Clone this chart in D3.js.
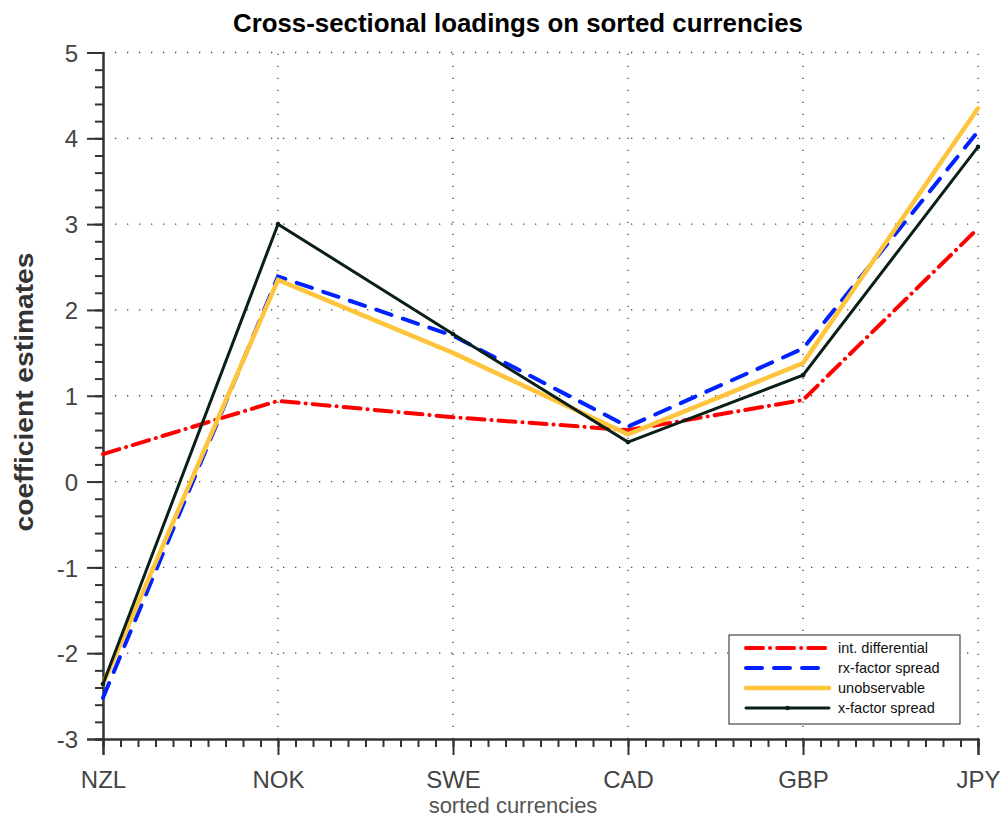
<!DOCTYPE html>
<html>
<head>
<meta charset="utf-8">
<script src="https://cdn.jsdelivr.net/npm/d3@7"></script>
<style>
  html, body { margin: 0; padding: 0; background: #fff; }
  svg { display: block; font-family: "Liberation Sans", Arial, sans-serif; }
</style>
</head>
<body>
<svg id="chart" width="1000" height="818"></svg>
<script>
// Sorted currencies on the x axis
const currencies = ["NZL", "NOK", "SWE", "CAD", "GBP", "JPY"];

// Coefficient estimates per loading
const intDifferential = [0.32, 0.94, 0.75, 0.60, 0.95, 2.95];
const rxFactorSpread  = [-2.52, 2.39, 1.70, 0.64, 1.55, 4.08];
const unobservable    = [-2.36, 2.35, 1.50, 0.55, 1.38, 4.35];
const xFactorSpread   = [-2.36, 3.00, 1.72, 0.46, 1.24, 3.90];

const seriesNames = ["int. differential", "rx-factor spread", "unobservable", "x-factor spread"];
const yTicks = [-3, -2, -1, 0, 1, 2, 3, 4, 5];

const series = [
  { name: seriesNames[0], values: intDifferential, color: "#ff0000", width: 4,   dash: "17 7 0.1 7", marker: false },
  { name: seriesNames[1], values: rxFactorSpread,  color: "#0022ff", width: 4,   dash: "16 12",      marker: false },
  { name: seriesNames[2], values: unobservable,    color: "#fec43b", width: 4.5, dash: null,         marker: false },
  { name: seriesNames[3], values: xFactorSpread,   color: "#0a1f17", width: 3,   dash: null,         marker: true }
];

const svg = d3.select("#chart");
const plotLeft = 103, plotRight = 978, plotTop = 52.5, plotBottom = 739;

const x = d3.scalePoint().domain(currencies).range([plotLeft, plotRight]);
const xIdx = d3.scaleLinear().domain([0, currencies.length - 1]).range([plotLeft, plotRight]);
const y = d3.scaleLinear().domain([-3, 5]).range([plotBottom, plotTop]);

const axisColor = "#333";
const fmt = v => String(v); // plain hyphen for negatives

// dotted grid
const grid = svg.append("g").attr("stroke", "#444").attr("stroke-width", 1.3)
  .attr("stroke-dasharray", "1.3 10.7").attr("fill", "none");
yTicks.filter(t => t > -3).forEach(t => {
  grid.append("line").attr("x1", plotLeft).attr("x2", plotRight).attr("y1", y(t)).attr("y2", y(t));
});
currencies.slice(1).forEach(c => {
  grid.append("line").attr("x1", x(c)).attr("x2", x(c)).attr("y1", plotBottom).attr("y2", plotTop);
});

// y axis with minor ticks
const yMinor = d3.range(-3, 5.0001, 0.2).map(v => +v.toFixed(1));
const yAxis = svg.append("g").attr("transform", `translate(${plotLeft},0)`)
  .call(d3.axisLeft(y).tickValues(yMinor).tickSize(8).tickFormat(""));
const yMajor = svg.append("g").attr("transform", `translate(${plotLeft},0)`)
  .call(d3.axisLeft(y).tickValues(yTicks).tickSize(16).tickPadding(9).tickFormat(fmt));

// x axis with minor ticks
const xMinor = d3.range(0, currencies.length - 1 + 0.0001, 0.1);
const xAxis = svg.append("g").attr("transform", `translate(0,${plotBottom})`)
  .call(d3.axisBottom(xIdx).tickValues(xMinor).tickSize(8).tickFormat(""));
const xMajor = svg.append("g").attr("transform", `translate(0,${plotBottom})`)
  .call(d3.axisBottom(x).tickSize(16).tickPadding(16));

[yAxis, yMajor, xAxis, xMajor].forEach(g => {
  g.selectAll("path.domain").attr("stroke", axisColor).attr("stroke-width", 2);
  g.selectAll(".tick line").attr("stroke", axisColor).attr("stroke-width", 2);
  g.selectAll(".tick text").attr("fill", "#444").attr("font-size", 24)
    .attr("font-family", "Liberation Sans, Arial, sans-serif");
});
yMajor.selectAll(".tick text").attr("dy", "0.36em");

// series lines
const line = d3.line().x((d, i) => x(currencies[i])).y(d => y(d));
series.forEach(s => {
  svg.append("path").datum(s.values)
    .attr("d", line)
    .attr("fill", "none")
    .attr("stroke", s.color)
    .attr("stroke-width", s.width)
    .attr("stroke-linecap", "round")
    .attr("stroke-linejoin", "miter")
    .attr("stroke-dasharray", s.dash);
  if (s.marker) {
    svg.append("g").selectAll("circle").data(s.values).join("circle")
      .attr("cx", (d, i) => x(currencies[i])).attr("cy", d => y(d))
      .attr("r", 2.3).attr("fill", s.color);
  }
});

// title and axis labels
svg.append("text").attr("x", 518).attr("y", 32).attr("text-anchor", "middle")
  .attr("font-size", 25).attr("font-weight", "bold").attr("fill", "#000")
  .attr("textLength", 570).attr("lengthAdjust", "spacingAndGlyphs")
  .text("Cross-sectional loadings on sorted currencies");
svg.append("text").attr("transform", "translate(33,392) rotate(-90)").attr("text-anchor", "middle")
  .attr("font-size", 25).attr("font-weight", "bold").attr("fill", "#333")
  .attr("textLength", 279).attr("lengthAdjust", "spacingAndGlyphs")
  .text("coefficient estimates");
svg.append("text").attr("x", 513).attr("y", 813).attr("text-anchor", "middle")
  .attr("font-size", 22).attr("fill", "#555")
  .text("sorted currencies");

// legend
const lg = svg.append("g").attr("transform", "translate(729,635)");
lg.append("rect").attr("width", 231).attr("height", 89)
  .attr("fill", "#fff").attr("stroke", "#222").attr("stroke-width", 1);
series.forEach((s, i) => {
  const yy = 13 + i * 20;
  lg.append("line").attr("x1", 17).attr("x2", 100).attr("y1", yy).attr("y2", yy)
    .attr("stroke", s.color).attr("stroke-width", s.width)
    .attr("stroke-linecap", "round").attr("stroke-dasharray", s.dash);
  if (s.marker) {
    lg.append("circle").attr("cx", 58.5).attr("cy", yy).attr("r", 2.3).attr("fill", s.color);
  }
  lg.append("text").attr("x", 109).attr("y", yy).attr("dy", "0.35em")
    .attr("font-size", 14.5).attr("fill", "#111").text(s.name);
});
</script>
</body>
</html>
